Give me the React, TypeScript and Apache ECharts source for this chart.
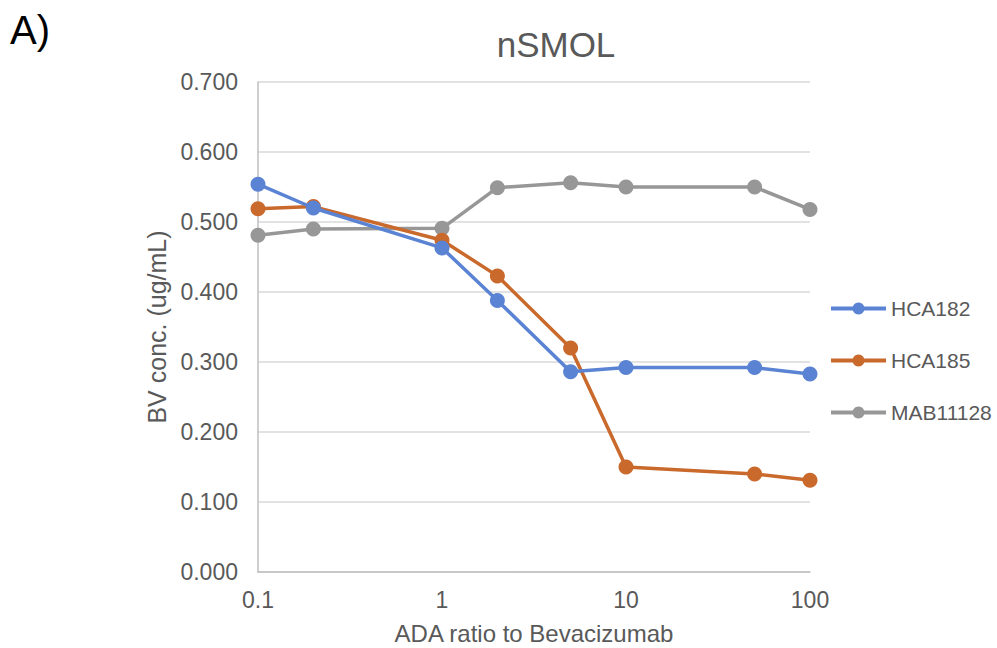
import React, { useEffect, useRef } from "react";
import * as echarts from "echarts";

const ratios = [0.1, 0.2, 1, 2, 5, 10, 50, 100];
const hca182 = [0.554, 0.520, 0.463, 0.388, 0.286, 0.292, 0.292, 0.283];
const hca185 = [0.519, 0.522, 0.474, 0.423, 0.320, 0.150, 0.140, 0.131];
const mab11128 = [0.481, 0.490, 0.491, 0.549, 0.556, 0.550, 0.550, 0.518];
const seriesNames = ["HCA182", "HCA185", "MAB11128"];
const colors = ["#5B83D3", "#C9692C", "#979797"];

const FONT = "'Liberation Sans', Arial, sans-serif";

export default function App() {
  const ref = useRef<HTMLDivElement>(null);
  useEffect(() => {
    if (!ref.current) return;
    const chart = echarts.init(ref.current, null, { renderer: "svg" });
    const all = [hca182, hca185, mab11128];
    chart.setOption({
      animation: false,
      backgroundColor: "#ffffff",
      textStyle: { fontFamily: FONT },
      title: {
        text: "nSMOL",
        left: 551,
        textAlign: "center",
        top: 22,
        textStyle: { fontSize: 35, fontWeight: "normal", color: "#595959", fontFamily: FONT },
      },
      graphic: [
        {
          type: "text",
          left: 10,
          top: 10,
          style: { text: "A)", fontSize: 40, fill: "#000000", fontFamily: FONT },
        },
      ],
      legend: {
        orient: "vertical",
        left: 829,
        top: 298,
        padding: 0,
        itemWidth: 55,
        itemHeight: 15,
        itemGap: 31,
        lineStyle: { width: 4 },
        textStyle: { fontSize: 21, color: "#595959", fontFamily: FONT },
        data: seriesNames,
      },
      grid: { left: 258, right: 187, top: 82, bottom: 76, outerBoundsMode: "none", containLabel: false },
      xAxis: {
        type: "log",
        logBase: 10,
        min: 0.1,
        max: 100,
        name: "ADA ratio to Bevacizumab",
        nameLocation: "middle",
        nameGap: 49,
        nameTextStyle: { fontSize: 24, color: "#595959", fontFamily: FONT },
        axisLine: { show: true, lineStyle: { color: "#bfbfbf", width: 1.5 } },
        axisTick: { show: false },
        splitLine: { show: false },
        minorTick: { show: false },
        axisLabel: {
          fontSize: 23,
          color: "#595959",
          margin: 16,
          formatter: (v: number) => String(Number(v.toPrecision(3))),
        },
      },
      yAxis: {
        type: "value",
        min: 0,
        max: 0.7,
        interval: 0.1,
        name: "BV conc. (ug/mL)",
        nameLocation: "middle",
        nameGap: 60,
        nameTextStyle: { fontSize: 25, color: "#595959", fontFamily: FONT },
        axisLine: { show: true, lineStyle: { color: "#bfbfbf", width: 1.5 } },
        axisTick: { show: false },
        splitLine: { show: true, lineStyle: { color: "#d9d9d9", width: 1.5 } },
        axisLabel: {
          fontSize: 23,
          color: "#595959",
          margin: 20,
          formatter: (v: number) => v.toFixed(3),
        },
      },
      series: seriesNames.map((name, i) => ({
        name,
        type: "line",
        data: ratios.map((r, j) => [r, all[i][j]]),
        symbol: "circle",
        symbolSize: 15,
        showAllSymbol: true,
        lineStyle: { color: colors[i], width: 3.5 },
        itemStyle: { color: colors[i] },
        z: 3 - i,
      })),
    });
    return () => chart.dispose();
  }, []);
  return <div ref={ref} style={{ width: 997, height: 648, position: "absolute", left: 0, top: 0 }} />;
}
